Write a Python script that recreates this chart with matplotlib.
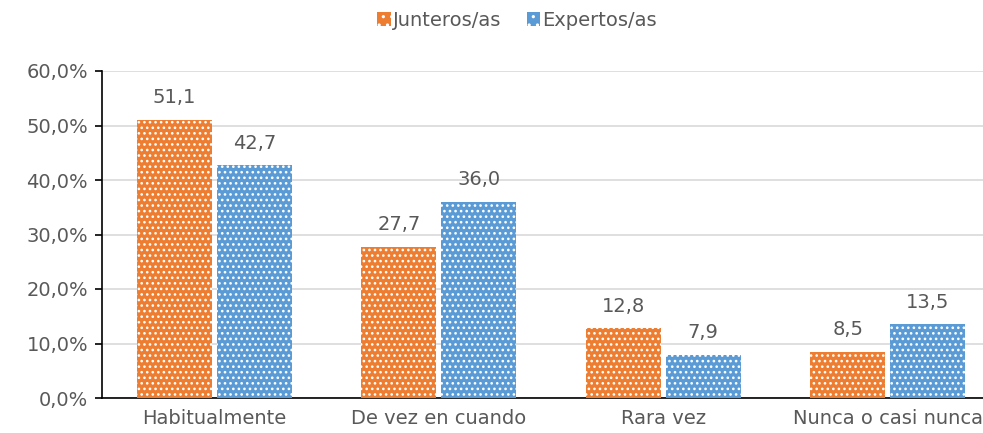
import matplotlib
matplotlib.use("Agg")
import matplotlib.pyplot as plt
import numpy as np
from matplotlib.patches import Patch

categories = ["Habitualmente", "De vez en cuando", "Rara vez", "Nunca o casi nunca"]
junteros = [51.1, 27.7, 12.8, 8.5]
expertos = [42.7, 36.0, 7.9, 13.5]
series_names = ["Junteros/as", "Expertos/as"]
yticks = [0, 10, 20, 30, 40, 50, 60]

plt.rcParams['font.family'] = ['DejaVu Sans']
plt.rcParams['hatch.linewidth'] = 1.1
txt = '#595959'
c_or = '#ED7D31'
c_bl = '#5B9BD5'
fs = 14

fig = plt.figure(figsize=(9.83, 4.33), dpi=100)
ax = fig.add_axes([102/983, 1-398/433, 898/983, 327/433])
x = np.arange(len(categories))
w = 0.334
b1 = ax.bar(x - 0.178, junteros, w, color=c_or, edgecolor='white', linewidth=0, hatch='...', zorder=3)
b2 = ax.bar(x + 0.178, expertos, w, color=c_bl, edgecolor='white', linewidth=0, hatch='...', zorder=3)

for bars, vals in ((b1, junteros), (b2, expertos)):
    for r, v in zip(bars, vals):
        ax.text(r.get_x() + r.get_width()/2, v + 2.3, f"{v:.1f}".replace('.', ','),
                ha='center', va='bottom', fontsize=fs, color=txt)

ax.set_xlim(-0.5, 3.5)
ax.set_ylim(0, 60)
ax.set_yticks(yticks)
ax.set_yticklabels([f"{t:.1f}%".replace('.', ',') for t in yticks], fontsize=fs, color=txt)
ax.set_xticks(x)
ax.set_xticklabels(categories, fontsize=fs, color=txt)
ax.tick_params(axis='x', length=0, pad=8)
ax.tick_params(axis='y', length=5, width=1.2, color='black', pad=5)
ax.yaxis.grid(True, color='#D9D9D9', linewidth=1.2, zorder=0)
ax.set_axisbelow(True)
for s in ['top', 'right']:
    ax.spines[s].set_visible(False)
ax.spines['left'].set_color('black')
ax.spines['bottom'].set_color('black')
ax.spines['left'].set_linewidth(1.2)
ax.spines['bottom'].set_linewidth(1.2)

handles = [Patch(facecolor=c_or, edgecolor='white', linewidth=0, hatch='..'),
           Patch(facecolor=c_bl, edgecolor='white', linewidth=0, hatch='..')]
leg = fig.legend(handles, series_names, loc='center', bbox_to_anchor=(0.526, 1-20/433),
                 ncol=2, frameon=False, fontsize=fs, handlelength=0.7, handleheight=0.7,
                 handletextpad=0.1, columnspacing=1.3)
for t in leg.get_texts():
    t.set_color(txt)

fig.savefig("out.png", dpi=100)
